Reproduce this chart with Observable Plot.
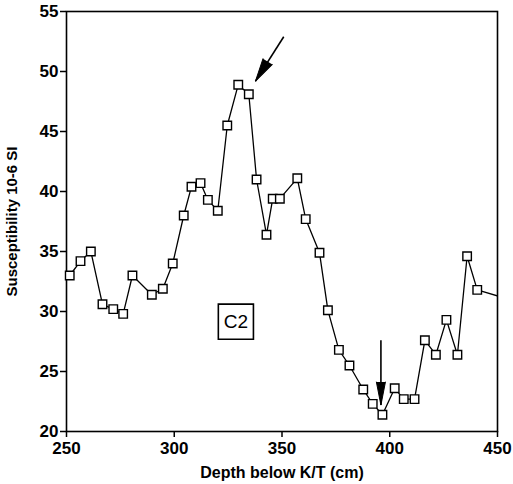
<!DOCTYPE html>
<html>
<head>
<meta charset="utf-8">
<script src="https://cdn.jsdelivr.net/npm/d3@7"></script>
<script src="https://cdn.jsdelivr.net/npm/@observablehq/plot@0.6"></script>
<style>
  html, body { margin: 0; padding: 0; background: #fff; }
  #chart { width: 513px; height: 484px; }
</style>
</head>
<body>
<div id="chart"></div>
<script>
// Depth below K/T (cm) and magnetic susceptibility (10-6 SI), core C2
const depth = [251.5, 256.5, 261.3, 266.7, 271.7, 276.3, 280.6, 289.6, 294.7, 299.3,
               304.4, 308.0, 312.2, 315.6, 320.2, 324.6, 329.7, 334.6, 338.2, 342.8,
               345.7, 349.0, 357.1, 361.0, 367.4, 371.3, 376.4, 381.3, 387.7, 392.1,
               396.6, 402.3, 406.5, 411.5, 416.3, 421.4, 426.3, 431.4, 435.9, 440.6];
const susceptibility = [33.0, 34.2, 35.0, 30.6, 30.2, 29.8, 33.0, 31.4, 31.9, 34.0,
                        38.0, 40.4, 40.7, 39.3, 38.4, 45.5, 48.9, 48.1, 41.0, 36.4,
                        39.4, 39.4, 41.1, 37.7, 34.9, 30.1, 26.8, 25.5, 23.5, 22.3,
                        21.4, 23.6, 22.7, 22.7, 27.6, 26.4, 29.3, 26.4, 34.6, 31.8];
// line continues (without marker) to the right edge of the frame
const tailDepth = [450];
const tailSusceptibility = [31.3];

const xTicks = [250, 300, 350, 400, 450];
const yTicks = [20, 25, 30, 35, 40, 45, 50, 55];

const xTitle = "Depth below K/T (cm)";
const yTitle = "Susceptibility 10-6 SI";
const coreLabel = "C2";
const coreLabelAt = {x: 328.6, y: 29.15};

// annotation arrows: start and tip in data units, heading angle (deg)
const arrowStartX = [350.8, 395.9];
const arrowStartY = [52.9, 27.6];
const arrowTipX = [337.7, 395.9];
const arrowTipY = [49.2, 22.2];
const arrowAngle = [212, 180];

const points = depth.map((d, i) => ({depth: d, s: susceptibility[i]}));
const linePts = points.concat(tailDepth.map((d, i) => ({depth: d, s: tailSusceptibility[i]})));
const arrows = arrowTipX.map((x, i) => ({x1: arrowStartX[i], y1: arrowStartY[i], x2: x, y2: arrowTipY[i], a: arrowAngle[i]}));

const chart = Plot.plot({
  width: 513,
  height: 484,
  marginLeft: 66,
  marginRight: 16,
  marginTop: 11,
  marginBottom: 53,
  style: {fontFamily: "'Liberation Sans', Arial, Helvetica, sans-serif", fontSize: "16px", fontWeight: "bold", color: "black", background: "white"},
  x: {domain: [250, 450], ticks: xTicks, label: null},
  y: {domain: [20, 55], ticks: yTicks, label: null},
  marks: [
    Plot.axisX({ticks: xTicks, tickSize: 6, tickPadding: 4, label: null, strokeWidth: 1.5, fontSize: 17}),
    Plot.axisY({ticks: yTicks, tickSize: 6, tickPadding: 2, label: null, strokeWidth: 1.5, fontSize: 17}),
    Plot.frame({stroke: "black", strokeWidth: 1.6}),
    Plot.line(linePts, {x: "depth", y: "s", stroke: "black", strokeWidth: 1.3, clip: true}),
    Plot.dot(points, {x: "depth", y: "s", symbol: "square", r: 4.8, fill: "white", stroke: "black", strokeWidth: 1.4}),
    // C2 label box
    Plot.dot([coreLabelAt], {x: "x", y: "y", symbol: "square", r: 19.8, fill: "white", stroke: "black", strokeWidth: 1.6}),
    Plot.text([coreLabelAt], {x: "x", y: "y", text: () => coreLabel, fontSize: 19, fontWeight: "normal", fill: "black"}),
    // annotation arrows
    Plot.link(arrows, {x1: "x1", y1: "y1", x2: "x2", y2: "y2", stroke: "black", strokeWidth: 1.6}),
    Plot.vector(arrows.slice(0, 1), {x: "x2", y: "y2", rotate: "a", length: 23, r: 5.5, shape: "spike", anchor: "end", fill: "black", stroke: "black", strokeWidth: 1}),
    Plot.vector(arrows.slice(1), {x: "x2", y: "y2", rotate: "a", length: 23, r: 4.5, shape: "spike", anchor: "end", fill: "black", stroke: "black", strokeWidth: 1}),
    // axis titles
    Plot.text([yTitle], {frameAnchor: "left", textAnchor: "middle", lineAnchor: "middle", rotate: -90, dx: -54, fontSize: 15, fill: "black"}),
    Plot.text([xTitle], {frameAnchor: "bottom", textAnchor: "middle", lineAnchor: "middle", dy: 41, fontSize: 16, fill: "black"})
  ]
});
document.getElementById("chart").appendChild(chart);
</script>
</body>
</html>
